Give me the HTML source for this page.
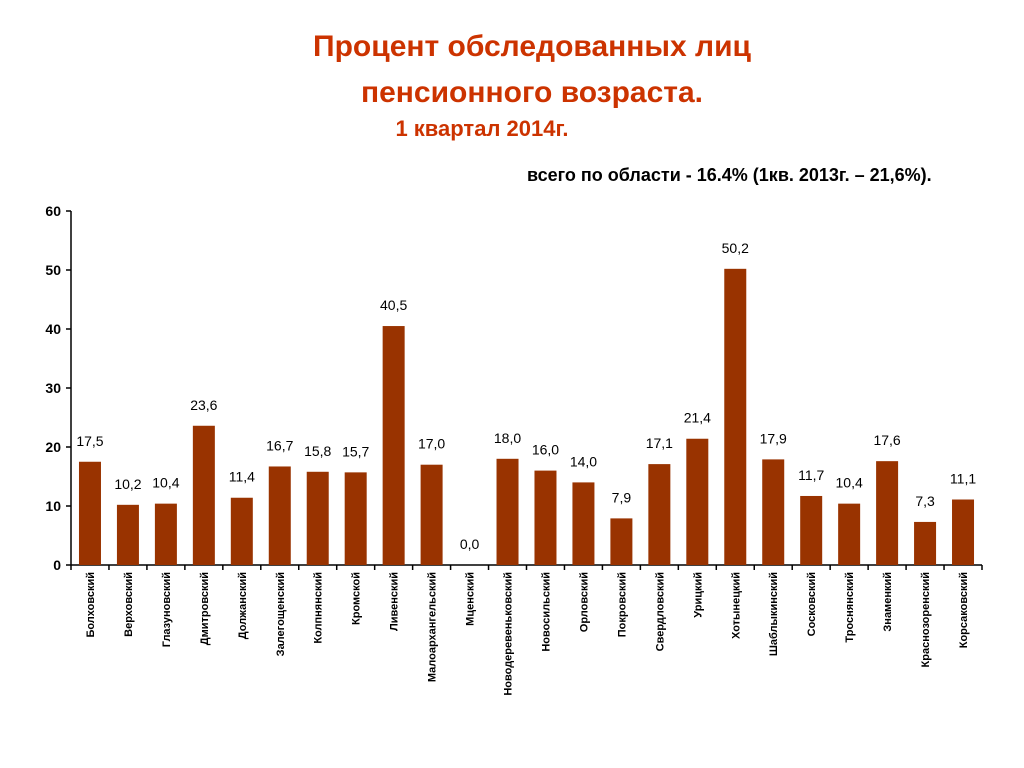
<!DOCTYPE html>
<html><head><meta charset="utf-8"><style>
body{margin:0;background:#fff;width:1024px;height:768px;overflow:hidden;font-family:"Liberation Sans",Arial,sans-serif}
.t{position:absolute;left:0;width:1024px;text-align:center;color:#cc3300;font-weight:bold}
</style></head><body>
<div class="t" style="top:30px;font-size:30px;left:20px">Процент обследованных лиц</div>
<div class="t" style="top:76px;font-size:30px;left:20px">пенсионного возраста.</div>
<div class="t" style="top:116px;font-size:22px;left:-30px">1 квартал  2014г.</div>
<div style="position:absolute;left:527px;top:165px;font-size:18px;font-weight:bold;color:#000">всего по области - 16.4% (1кв. 2013г. – 21,6%).</div>
<svg id="c" width="1024" height="768" style="position:absolute;left:0;top:0"></svg>
<script>
const categories=["Болховский","Верховский","Глазуновский","Дмитровский","Должанский","Залегощенский","Колпнянский","Кромской","Ливенский","Малоархангельский","Мценский","Новодеревеньковский","Новосильский","Орловский","Покровский","Свердловский","Урицкий","Хотынецкий","Шаблыкинский","Сосковский","Троснянский","Знаменкий","Краснозоренский","Корсаковский"];
const values=[17.5,10.2,10.4,23.6,11.4,16.7,15.8,15.7,40.5,17.0,0.0,18.0,16.0,14.0,7.9,17.1,21.4,50.2,17.9,11.7,10.4,17.6,7.3,11.1];
const yTicks=[0,10,20,30,40,50,60];
const NS="http://www.w3.org/2000/svg",svg=document.getElementById('c');
const x0=71,x1=982,y0=565,y60=211;
const cw=(x1-x0)/categories.length;
const ys=v=>y0-(v/60)*(y0-y60);
const xc=i=>x0+cw*(i+0.5);
function mk(t,a,txt){const e=document.createElementNS(NS,t);for(const k in a)e.setAttribute(k,a[k]);if(txt!==undefined)e.textContent=txt;svg.appendChild(e);return e;}
let e=mk('line',{x1:x0,y1:y60,x2:x0,y2:y0,stroke:'#000','stroke-width':1.5});


e=mk('line',{x1:x0,y1:y0,x2:x1,y2:y0,stroke:'#000','stroke-width':1.5});


yTicks.forEach(t=>{
 const tk=mk('line',{x1:x0-5,y1:ys(t),x2:x0,y2:ys(t),stroke:'#000','stroke-width':1.5});
 
 
 const l=mk('text',{x:x0-10,y:ys(t)+5,'text-anchor':'end','font-size':14,'font-weight':'bold','font-family':'Liberation Sans, sans-serif'},String(t));
 
 
});
for(let i=0;i<=categories.length;i++){
 const tk=mk('line',{x1:x0+cw*i,y1:y0,x2:x0+cw*i,y2:y0+5,stroke:'#000','stroke-width':1.5});
 
 
}
categories.forEach((c,i)=>{
 const v=values[i],cx=xc(i);
 const b=mk('rect',{x:cx-11,y:ys(v),width:22,height:y0-ys(v),fill:'#993300'});
 
 
 const vl=mk('text',{x:cx,y:ys(v)-16,'text-anchor':'middle','font-size':14,'font-family':'Liberation Sans, sans-serif'},v.toFixed(1).replace('.',','));
 
 
 const cl=mk('text',{x:0,y:0,'text-anchor':'end','font-size':11,'font-weight':'bold','font-family':'Liberation Sans, sans-serif',transform:`translate(${cx+4},572) rotate(-90)`},c);
 
 
});
</script>
</body></html>
